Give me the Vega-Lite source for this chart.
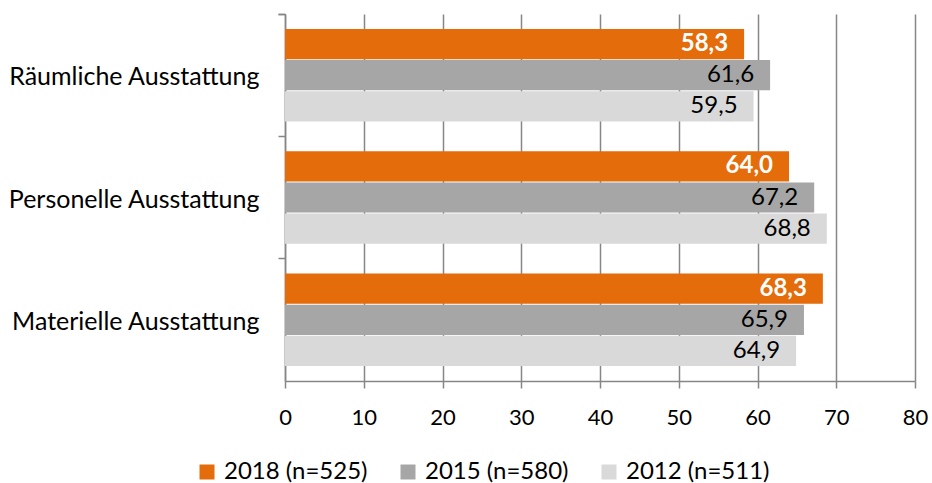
{
  "$schema": "https://vega.github.io/schema/vega-lite/v6.json",
  "autosize": {"type": "none"},
  "width": 630,
  "height": 367,
  "padding": {"left": 285, "top": 14, "right": 17, "bottom": 102},
  "config": {
    "font": "Lato",
    "view": {"stroke": null},
    "locale": {"number": {"decimal": ",", "thousands": ".", "grouping": [3], "currency": ["", " €"]}}
  },
  "data": {
    "values": [
      {"kategorie": "Räumliche Ausstattung", "jahr": "2018 (n=525)", "wert": 58.3},
      {"kategorie": "Räumliche Ausstattung", "jahr": "2015 (n=580)", "wert": 61.6},
      {"kategorie": "Räumliche Ausstattung", "jahr": "2012 (n=511)", "wert": 59.5},
      {"kategorie": "Personelle Ausstattung", "jahr": "2018 (n=525)", "wert": 64.0},
      {"kategorie": "Personelle Ausstattung", "jahr": "2015 (n=580)", "wert": 67.2},
      {"kategorie": "Personelle Ausstattung", "jahr": "2012 (n=511)", "wert": 68.8},
      {"kategorie": "Materielle Ausstattung", "jahr": "2018 (n=525)", "wert": 68.3},
      {"kategorie": "Materielle Ausstattung", "jahr": "2015 (n=580)", "wert": 65.9},
      {"kategorie": "Materielle Ausstattung", "jahr": "2012 (n=511)", "wert": 64.9}
    ]
  },
  "encoding": {
    "y": {
      "field": "kategorie", "type": "nominal",
      "sort": ["Räumliche Ausstattung", "Personelle Ausstattung", "Materielle Ausstattung"],
      "scale": {"paddingInner": 0, "paddingOuter": 0},
      "axis": {
        "title": null, "bandPosition": 0, "tickExtra": true, "labelOffset": 2,
        "domainColor": "#868686", "domainWidth": 1.5, "tickColor": "#868686", "tickWidth": 1.5, "tickSize": 7,
        "labelFontSize": 25, "labelColor": "#000000", "labelPadding": 19, "labelLimit": 300
      }
    },
    "yOffset": {
      "field": "jahr", "type": "nominal",
      "sort": ["2018 (n=525)", "2015 (n=580)", "2012 (n=511)"],
      "scale": {"paddingInner": 0.03, "paddingOuter": 0.48}
    },
    "x": {
      "field": "wert", "type": "quantitative",
      "scale": {"domain": [0, 80], "nice": false},
      "axis": {
        "title": null, "values": [0, 10, 20, 30, 40, 50, 60, 70, 80],
        "grid": true, "gridColor": "#868686", "gridWidth": 1.5,
        "domainColor": "#868686", "domainWidth": 1.5, "tickColor": "#868686", "tickWidth": 1.5, "tickSize": 7,
        "labelFontSize": 22, "labelColor": "#000000", "labelPadding": 19, "labelFlush": false
      }
    }
  },
  "layer": [
    {
      "mark": {"type": "bar"},
      "encoding": {
        "color": {
          "field": "jahr", "type": "nominal",
          "sort": ["2018 (n=525)", "2015 (n=580)", "2012 (n=511)"],
          "scale": {"domain": ["2018 (n=525)", "2015 (n=580)", "2012 (n=511)"], "range": ["#E46C0A", "#A6A6A6", "#D9D9D9"]},
          "legend": {
            "title": null, "orient": "none", "direction": "horizontal", "columns": 3,
            "legendX": -90, "legendY": 446,
            "symbolType": "square", "symbolSize": 225, "symbolStrokeWidth": 0,
            "labelFontSize": 24, "labelColor": "#000000", "labelOffset": 5, "columnPadding": 28
          }
        }
      }
    },
    {
      "transform": [{"filter": "datum.jahr == '2018 (n=525)'"}],
      "mark": {"type": "text", "align": "right", "dx": -16, "fontSize": 24, "fontWeight": "bold", "color": "white"},
      "encoding": {"text": {"field": "wert", "type": "quantitative", "format": ".1f"}}
    },
    {
      "transform": [{"filter": "datum.jahr != '2018 (n=525)'"}],
      "mark": {"type": "text", "align": "right", "dx": -16, "fontSize": 24, "color": "black"},
      "encoding": {"text": {"field": "wert", "type": "quantitative", "format": ".1f"}}
    }
  ]
}
